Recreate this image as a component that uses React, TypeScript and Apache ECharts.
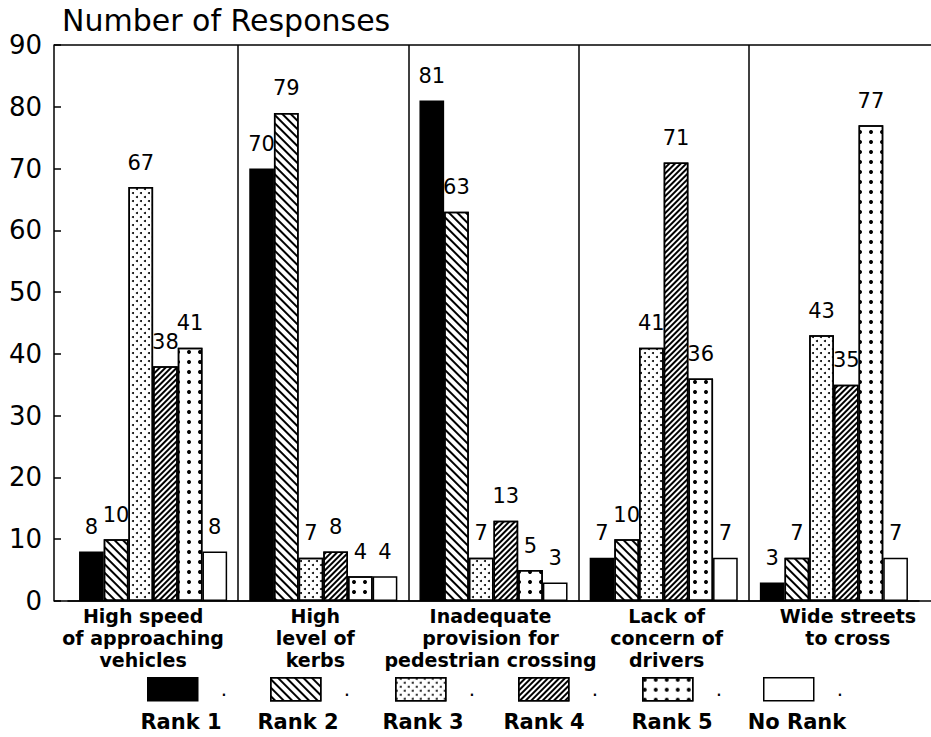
import React, { useEffect, useRef } from 'react';
import * as echarts from 'echarts';

const categories = [
  'High speed\nof approaching\nvehicles',
  'High\nlevel of\nkerbs',
  'Inadequate\nprovision for\npedestrian crossing',
  'Lack of\nconcern of\ndrivers',
  'Wide streets\nto cross',
];
const seriesNames = ['Rank 1', 'Rank 2', 'Rank 3', 'Rank 4', 'Rank 5', 'No Rank'];
const rank1 = [8, 70, 81, 7, 3];
const rank2 = [10, 79, 63, 10, 7];
const rank3 = [67, 7, 7, 41, 43];
const rank4 = [38, 8, 13, 71, 35];
const rank5 = [41, 4, 5, 36, 77];
const noRank = [8, 4, 3, 7, 7];
const seriesValues = [rank1, rank2, rank3, rank4, rank5, noRank];
const yMin = 0;
const yMax = 90;
const yInterval = 10;
const titleText = 'Number of Responses';

// layout constants
const FONT = 'DejaVu Sans';
const GRID = { left: 68, right: 12, top: 45, bottom: 136 };
const legendLefts = [147, 270, 395, 518, 642, 763];
const legendLabelCenters = [181, 298, 423, 544, 672, 797];
const categoryLabelShifts = [-10, -8, -3, 3, 14];

const decals: any[] = [
  null,
  { symbol: 'rect', symbolSize: 1, dashArrayX: [1, 0], dashArrayY: [2, 4], rotation: Math.PI / 4, color: '#000' },
  { symbol: 'circle', symbolSize: 1, dashArrayX: [[2, 6], [0, 4, 2, 2]], dashArrayY: [2, 2], color: '#000' },
  { symbol: 'rect', symbolSize: 1, dashArrayX: [1, 0], dashArrayY: [2, 2], rotation: -Math.PI / 4, color: '#000' },
  { symbol: 'circle', symbolSize: 1, dashArrayX: [4, 7], dashArrayY: [4, 6], color: '#000' },
  null,
];

export default function App() {
  const ref = useRef<HTMLDivElement>(null);
  useEffect(() => {
    document.body.style.margin = '0';
    const chart = echarts.init(ref.current!, null, { renderer: 'svg' });
    const W = 931;
    const H = 737;
    const axisY = H - GRID.bottom;
    const series = seriesNames.map((name, i) => ({
      name,
      type: 'bar',
      data: seriesValues[i],
      barGap: '0%',
      barCategoryGap: '13%',
      itemStyle: {
        color: i === 0 ? '#000' : '#fff',
        borderColor: '#000',
        borderWidth: 1.5,
        decal: decals[i] || undefined,
      },
      label: {
        show: true,
        position: 'top',
        distance: 14,
        color: '#000',
        fontFamily: FONT,
        fontSize: 21,
      },
      emphasis: { disabled: true },
    }));
    const legends = seriesNames.map((name, i) => ({
      show: true,
      data: [name],
      left: legendLefts[i],
      top: 677,
      padding: 0,
      icon: 'rect',
      itemWidth: 50,
      itemHeight: 23,
      itemGap: 0,
      selectedMode: false,
      formatter: () => '.',
      textStyle: { color: '#000', fontFamily: FONT, fontSize: 20, padding: [10, 0, 0, 18] },
      itemStyle: { borderColor: '#000', borderWidth: 1.5 },
    }));
    const labelFont = { fontFamily: FONT, fontSize: 19, fontWeight: 'bold', lineHeight: 22, color: '#000' };
    const rich: any = {};
    categoryLabelShifts.forEach((d, i) => {
      rich['s' + i] = { ...labelFont, padding: d >= 0 ? [0, 0, 0, 2 * d] : [0, -2 * d, 0, 0] };
    });
    const graphics: any[] = [
      { type: 'line', shape: { x1: 54, y1: GRID.top, x2: W, y2: GRID.top }, style: { stroke: '#000', lineWidth: 1.5 } },
      { type: 'line', shape: { x1: 54, y1: axisY, x2: W, y2: axisY }, style: { stroke: '#000', lineWidth: 1.5 } },
      ...seriesNames.map((name, i) => ({
        type: 'text',
        x: legendLabelCenters[i],
        y: 722,
        style: {
          text: name,
          fill: '#000',
          font: `bold 21px "${FONT}"`,
          textAlign: 'center',
          textVerticalAlign: 'middle',
        },
      })),
    ];
    chart.setOption({
      animation: false,
      backgroundColor: '#fff',
      title: {
        text: titleText,
        left: 62,
        top: 5,
        padding: 0,
        textStyle: { color: '#000', fontFamily: FONT, fontSize: 30, fontWeight: 'normal' },
      },
      grid: { ...GRID, containLabel: false, outerBoundsMode: 'none' },
      legend: legends,
      xAxis: {
        type: 'category',
        data: categories,
        axisLine: { show: true, lineStyle: { color: '#000', width: 1.5 } },
        axisTick: { show: false },
        splitLine: {
          show: true,
          interval: 0,
          showMinLine: false,
          showMaxLine: false,
          lineStyle: { color: '#000', width: 1.5, type: 'solid' },
        },
        axisLabel: {
          interval: 0,
          margin: 4,
          ...labelFont,
          formatter: (value: string, index: number) =>
            value.split('\n').map((l) => `{s${index}|${l}}`).join('\n'),
          rich,
        },
      },
      yAxis: {
        type: 'value',
        min: yMin,
        max: yMax,
        interval: yInterval,
        offset: 14,
        axisLine: { show: true, lineStyle: { color: '#000', width: 1.5 } },
        axisTick: { show: true, inside: true, length: 7, lineStyle: { color: '#000', width: 1.5 } },
        splitLine: { show: false },
        axisLabel: { color: '#000', fontFamily: FONT, fontSize: 26, margin: 12 },
      },
      graphic: graphics,
      series,
    } as any);
    return () => chart.dispose();
  }, []);
  return <div ref={ref} style={{ width: 931, height: 737 }} />;
}
